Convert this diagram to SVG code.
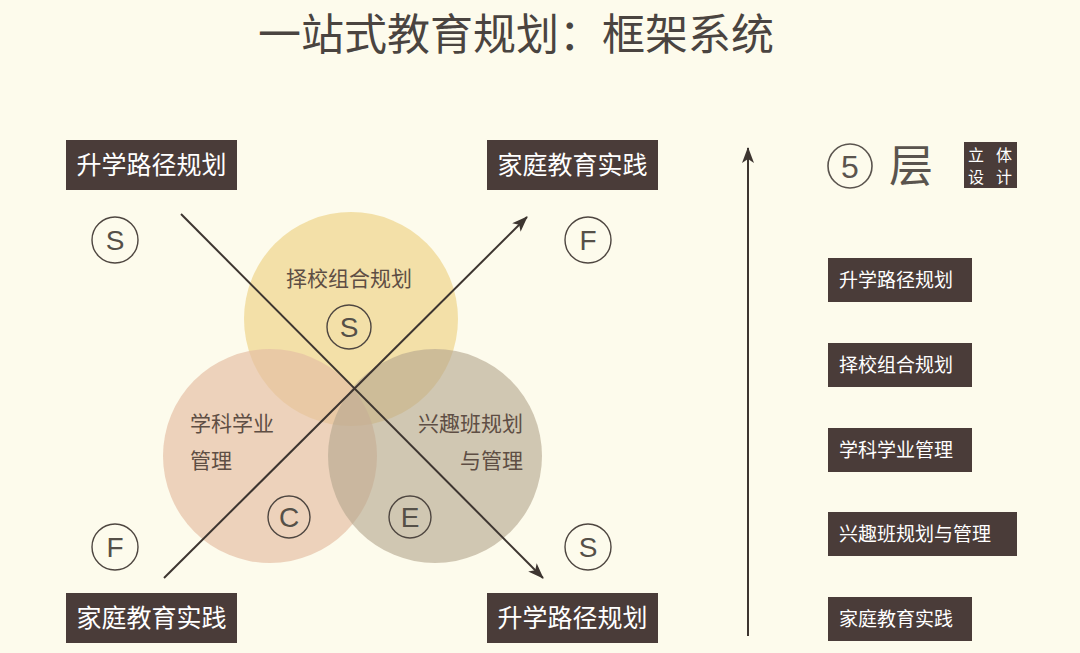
<svg xmlns="http://www.w3.org/2000/svg" width="1080" height="653" viewBox="0 0 1080 653">
  <defs>
    <marker id="arr" viewBox="0 0 16 12" refX="15" refY="6" markerWidth="16" markerHeight="12" markerUnits="userSpaceOnUse" orient="auto">
      <path d="M0,0 L16,6 L0,12 L4,6 Z" fill="#3d3530"/>
    </marker>
    <style>
      text { font-family: "Noto Sans CJK SC", "Liberation Sans", sans-serif; }
      .box { fill: #4a3c39; }
      .boxt { fill: #ffffff; font-size: 25px; text-anchor: middle; }
      .rboxt { fill: #ffffff; font-size: 19px; text-anchor: start; }
      .lbl { fill: #5e4e44; font-size: 21px; }
      .ring { fill: none; stroke: #4e4640; stroke-width: 1.4; }
      .lt { fill: #555048; font-size: 28px; text-anchor: middle; font-family: "Liberation Sans", "DejaVu Sans", sans-serif; }
      .conn { stroke: #3d3530; stroke-width: 2; fill: none; }
      .sm { fill: #ffffff; font-size: 16px; text-anchor: middle; }
    </style>
  </defs>
  <rect width="1080" height="653" fill="#fdfbec"/>

  <g id="title">
    <text x="516" y="50" font-size="43" fill="#4a4440" text-anchor="middle">一站式教育规划：框架系统</text>
  </g>

  <g id="venn">
    <circle cx="351" cy="319" r="107" fill="#efd68e" opacity="0.72"/>
    <circle cx="270" cy="456" r="107" fill="#e5bea3" opacity="0.68"/>
    <circle cx="435" cy="456" r="107" fill="#b4a78e" opacity="0.62"/>
  </g>

  <g id="node-zexiao">
    <text class="lbl" x="349" y="286" text-anchor="middle">择校组合规划</text>
    <circle class="ring" cx="349" cy="327" r="22"/>
    <text class="lt" x="349" y="337">S</text>
  </g>
  <g id="node-xueke">
    <text class="lbl" x="190" y="431">学科学业</text>
    <text class="lbl" x="190" y="468">管理</text>
    <circle class="ring" cx="289" cy="517" r="21"/>
    <text class="lt" x="289" y="527">C</text>
  </g>
  <g id="node-xingqu">
    <text class="lbl" x="523" y="431" text-anchor="end">兴趣班规划</text>
    <text class="lbl" x="523" y="468" text-anchor="end">与管理</text>
    <circle class="ring" cx="410" cy="517" r="21"/>
    <text class="lt" x="410" y="527">E</text>
  </g>

  <g id="connectors">
    <line class="conn" x1="181" y1="214" x2="543" y2="578" marker-end="url(#arr)"/>
    <line class="conn" x1="164" y1="578" x2="527" y2="217" marker-end="url(#arr)"/>
    <line class="conn" x1="748" y1="636" x2="748" y2="148" marker-end="url(#arr)"/>
  </g>

  <g id="node-tl">
    <rect class="box" x="66" y="140" width="171" height="50"/>
    <text class="boxt" x="151.5" y="174">升学路径规划</text>
    <circle class="ring" cx="115" cy="240" r="23"/>
    <text class="lt" x="115" y="250">S</text>
  </g>
  <g id="node-tr">
    <rect class="box" x="487" y="140" width="171" height="50"/>
    <text class="boxt" x="572.5" y="174">家庭教育实践</text>
    <circle class="ring" cx="588" cy="240" r="23"/>
    <text class="lt" x="588" y="250">F</text>
  </g>
  <g id="node-bl">
    <rect class="box" x="66" y="593" width="171" height="50"/>
    <text class="boxt" x="151.5" y="627">家庭教育实践</text>
    <circle class="ring" cx="115" cy="547" r="23"/>
    <text class="lt" x="115" y="557">F</text>
  </g>
  <g id="node-br">
    <rect class="box" x="487" y="593" width="171" height="50"/>
    <text class="boxt" x="572.5" y="627">升学路径规划</text>
    <circle class="ring" cx="588" cy="547" r="23"/>
    <text class="lt" x="588" y="557">S</text>
  </g>

  <g id="header-5">
    <circle cx="850" cy="166" r="22" fill="none" stroke="#5a544e" stroke-width="1.6"/>
    <text x="850" y="178" font-size="32" fill="#5a544e" text-anchor="middle" style="font-family: 'Liberation Sans', sans-serif;">5</text>
    <text x="911" y="182" font-size="44" fill="#5a544e" text-anchor="middle">层</text>
    <rect class="box" x="964" y="142" width="53" height="46"/>
    <text class="sm" x="976" y="161">立</text>
    <text class="sm" x="1004" y="161">体</text>
    <text class="sm" x="976" y="183">设</text>
    <text class="sm" x="1004" y="183">计</text>
  </g>

  <g id="layer-1">
    <rect class="box" x="828" y="258" width="144" height="44"/>
    <text class="rboxt" x="839" y="287">升学路径规划</text>
  </g>
  <g id="layer-2">
    <rect class="box" x="828" y="343" width="144" height="44"/>
    <text class="rboxt" x="839" y="372">择校组合规划</text>
  </g>
  <g id="layer-3">
    <rect class="box" x="828" y="428" width="144" height="44"/>
    <text class="rboxt" x="839" y="457">学科学业管理</text>
  </g>
  <g id="layer-4">
    <rect class="box" x="828" y="512" width="189" height="44"/>
    <text class="rboxt" x="839" y="541">兴趣班规划与管理</text>
  </g>
  <g id="layer-5">
    <rect class="box" x="828" y="597" width="144" height="44"/>
    <text class="rboxt" x="839" y="626">家庭教育实践</text>
  </g>
</svg>
